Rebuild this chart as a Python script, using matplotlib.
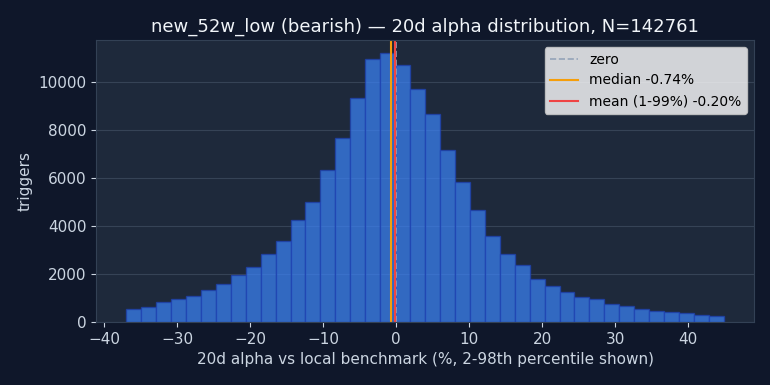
import numpy as np
import matplotlib
matplotlib.use("Agg")
import matplotlib.pyplot as plt
from matplotlib.ticker import MultipleLocator

# bin edges of the histogram (2-98 percentile range, 40 bins)
lo_edge = -37.0
hi_edge = 44.9
n_bins = 40

# counts per bin
counts = [552, 635, 843, 967, 1091, 1340, 1589, 1963, 2295, 2834,
          3373, 4245, 4992, 6320, 7647, 9307, 10925, 11175, 10677, 9681,
          8643, 7149, 5822, 4660, 3581, 2834, 2378, 1797, 1506, 1257,
          1024, 967, 760, 677, 552, 469, 428, 386, 303, 261]

median_val = -0.74
mean_val = -0.20
n_total = 142761

fig_bg = "#0f172a"
ax_bg = "#1e293b"
txt = "#cbd5e1"

edges = np.linspace(lo_edge, hi_edge, n_bins + 1)
centers = (edges[:-1] + edges[1:]) / 2

fig, ax = plt.subplots(figsize=(7.7, 3.85), dpi=100)
fig.patch.set_facecolor(fig_bg)
ax.set_facecolor(ax_bg)

ax.hist(centers, bins=edges, weights=counts, color="#3b82f6", alpha=0.72,
        edgecolor="#1e40af", linewidth=1)

ax.axvline(0, color="#94a3b8", linestyle="--", linewidth=1.2, label="zero")
ax.axvline(median_val, color="#f59e0b", linewidth=1.5, label=f"median {median_val:.2f}%")
ax.axvline(mean_val, color="#ef4444", linewidth=1.5, label=f"mean (1-99%) {mean_val:.2f}%")

ax.set_title(f"new_52w_low (bearish) — 20d alpha distribution, N={n_total}",
             color="#f1f5f9", fontsize=13)
ax.set_xlabel("20d alpha vs local benchmark (%, 2-98th percentile shown)", color=txt, fontsize=11)
ax.set_ylabel("triggers", color=txt, fontsize=11)
ax.xaxis.set_major_locator(MultipleLocator(10))
ax.tick_params(colors=txt, labelsize=11)
ax.grid(axis="y", color="#475569", alpha=0.6, linewidth=0.8)
ax.set_axisbelow(True)
for s in ax.spines.values():
    s.set_color("#334155")

ax.legend(loc="upper right", fontsize=10)

fig.subplots_adjust(left=0.125, right=0.979, top=0.896, bottom=0.164)
fig.savefig("out.png", facecolor=fig_bg)
